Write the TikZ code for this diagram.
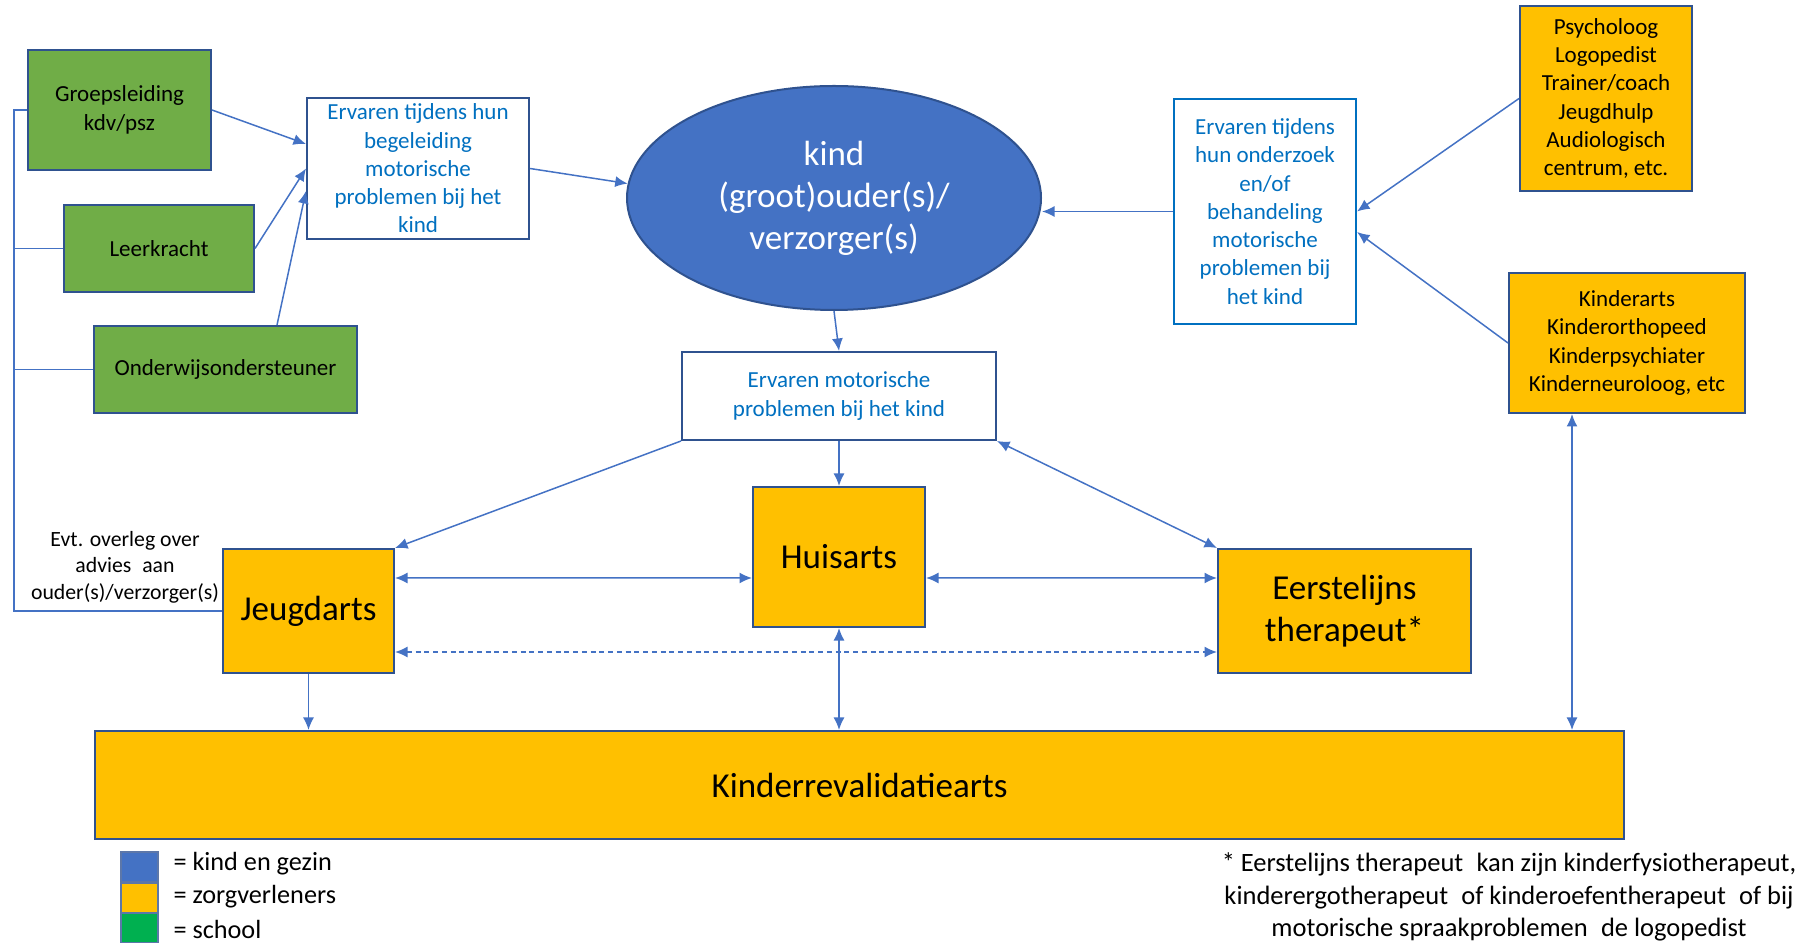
\documentclass[tikz,border=0pt]{standalone}
\usepackage{fontspec}
\setmainfont{Carlito}
\usetikzlibrary{arrows.meta,positioning,shapes.geometric}
\definecolor{kgblue}{HTML}{4472C4}
\definecolor{rand}{HTML}{2F528F}
\definecolor{schgreen}{HTML}{70AD47}
\definecolor{legreen}{HTML}{00B050}
\definecolor{zorg}{HTML}{FFC000}
\definecolor{infotxt}{HTML}{0070C0}

\begin{document}
\begin{tikzpicture}[x=0.4pt,y=-0.4pt,inner sep=0pt]
  \useasboundingbox (0,0) rectangle (1812,944);
  \tikzstyle{small}=[font=\fontsize{9.2}{11.3}\selectfont,align=center]
  \tikzstyle{big}=[font=\fontsize{14}{16.8}\selectfont,align=center]
  \tikzstyle{sch}=[rectangle,draw=rand,line width=0.8pt,fill=schgreen,small]
  \tikzstyle{zv}=[rectangle,draw=rand,line width=0.8pt,fill=zorg]
  \tikzstyle{info}=[rectangle,draw=rand,line width=0.8pt,fill=white,text=infotxt,small]
  % school
  \node[sch,minimum width=73.2pt,minimum height=48pt](groep)at(119.5,110){Groepsleiding\\kdv/psz};
  \node[sch,minimum width=76pt,minimum height=34.8pt](leer)at(159,248.5){Leerkracht};
  \node[sch,minimum width=105.2pt,minimum height=34.8pt](onder)at(225.5,369.5){Onderwijsondersteuner};
  % kind en gezin
  \node[ellipse,draw=rand,line width=0.8pt,fill=kgblue,text=white,big,minimum width=165.6pt,minimum height=89.6pt](kind)at(834,198){kind\\(groot)ouder(s)/\\verzorger(s)};
  % ervaringen
  \node[info,minimum width=88.8pt,minimum height=56.4pt](begel)at(418,168.5){Ervaren tijdens hun\\begeleiding\\motorische\\problemen bij het\\kind};
  \node[info,draw=infotxt,minimum width=72.8pt,minimum height=90pt](onderz)at(1265,211.5){Ervaren tijdens\\hun onderzoek\\en/of\\behandeling\\motorische\\problemen bij\\het kind};
  \node[info,minimum width=125.6pt,minimum height=35.2pt](ervmot)at(839,396){Ervaren motorische\\problemen bij het kind};
  % zorgverleners
  \node[zv,small,minimum width=68.8pt,minimum height=74pt](psych)at(1606,98.5){Psycholoog\\Logopedist\\Trainer/coach\\Jeugdhulp\\Audiologisch\\centrum, etc.};
  \node[zv,small,minimum width=94.4pt,minimum height=56pt](karts)at(1627,343){Kinderarts\\Kinderorthopeed\\Kinderpsychiater\\Kinderneuroloog, etc};
  \node[zv,big,minimum width=68.8pt,minimum height=56pt](huis)at(839,557){Huisarts};
  \node[zv,big,minimum width=68.4pt,minimum height=49.6pt](jeugd)at(308.5,611){Jeugdarts};
  \node[zv,big,minimum width=101.2pt,minimum height=49.6pt](eerst)at(1344.5,611){Eerstelijns\\therapeut*};
  \node[zv,big,minimum width=611.6pt,minimum height=43.2pt](krev)at(859.5,785){Kinderrevalidatiearts};
  % overleg
  \node[font=\fontsize{8.7}{10.6}\selectfont,align=center](overleg)at(125,567){Evt. overleg over\\advies\enspace aan\\ouder(s)/verzorger(s)};
  \coordinate(lt)at(14,110);
  \coordinate(lb)at(14,611);
  % hulppunten
  \coordinate(bg1)at([yshift=9.8pt]begel.west);
  \coordinate(bg3)at([yshift=-9pt]begel.west);
  \coordinate(on1)at([xshift=20.6pt]onder.north);
  \coordinate(kz)at(onderz.west-|kind.east);
  \coordinate(oz2)at([yshift=-8.2pt]onderz.east);
  \coordinate(je1)at([yshift=13.2pt]jeugd.east);
  \coordinate(je2)at([yshift=-16.4pt]jeugd.east);
  \coordinate(hu1)at([yshift=-8.4pt]huis.west);
  \coordinate(hu2)at([yshift=-8.4pt]huis.east);
  \coordinate(ee1)at([yshift=13.2pt]eerst.west);
  \coordinate(ee2)at([yshift=-16.4pt]eerst.west);
  \coordinate(ka1)at([xshift=-22pt]karts.south);
  \coordinate(kr1)at(jeugd.south|-krev.north);
  \coordinate(kr2)at(huis.south|-krev.north);
  \coordinate(kr3)at(ka1|-krev.north);
  \tikzstyle{e}=[draw=kgblue,line width=0.6pt,>={Latex[length=5pt,width=4.4pt]}]
  \draw[e](groep.west)--(lt)--(lb)--(jeugd.west);
  \draw[e](leer.west)--(leer.west-|lt);
  \draw[e](onder.west)--(onder.west-|lt);
  % pijlen
  \foreach\o/\d in{groep.east/bg1,leer.east/begel.west,on1/bg3,begel.east/kind.176,onderz.west/kz,
    psych.west/onderz.east,karts.west/oz2,kind.south/ervmot.north,ervmot.south west/jeugd.north east,
    ervmot.south/huis.north,jeugd.south/kr1}
    {\draw[e,->](\o)--(\d);}
  \foreach\o/\d in{ervmot.south east/eerst.north west,je1/hu1,hu2/ee1,huis.south/kr2,ka1/kr3}
    {\draw[e,<->](\o)--(\d);}
  \draw[e,<->,dash pattern=on 2pt off 1.5pt](je2)--(ee2);
  % legenda
  \tikzstyle{lg}=[rectangle,draw=kgblue!60!gray,line width=0.6pt,minimum width=14.8pt,minimum height=11.8pt]
  \tikzstyle{lgt}=[anchor=west,font=\fontsize{10.5}{12.8}\selectfont]
  \node[lg,fill=kgblue](lkind)at(139.5,866.5){};
  \node[lg,fill=zorg](lzorg)at(139.5,897.5){};
  \node[lg,fill=legreen](lschool)at(139.5,927.5){};
  \node[lgt](tkind)at(173,864){= kind en gezin};
  \node[lgt](tzorg)at(173,897){= zorgverleners};
  \node[lgt](tschool)at(173,929){= school};
  \node[font=\fontsize{10.6}{13}\selectfont,align=center](noot)at(1509,897){* Eerstelijns therapeut\enspace kan zijn kinderfysiotherapeut,\\kinderergotherapeut\enspace of kinderoefentherapeut\enspace of bij\\motorische spraakproblemen\enspace de logopedist};
\end{tikzpicture}
\end{document}
